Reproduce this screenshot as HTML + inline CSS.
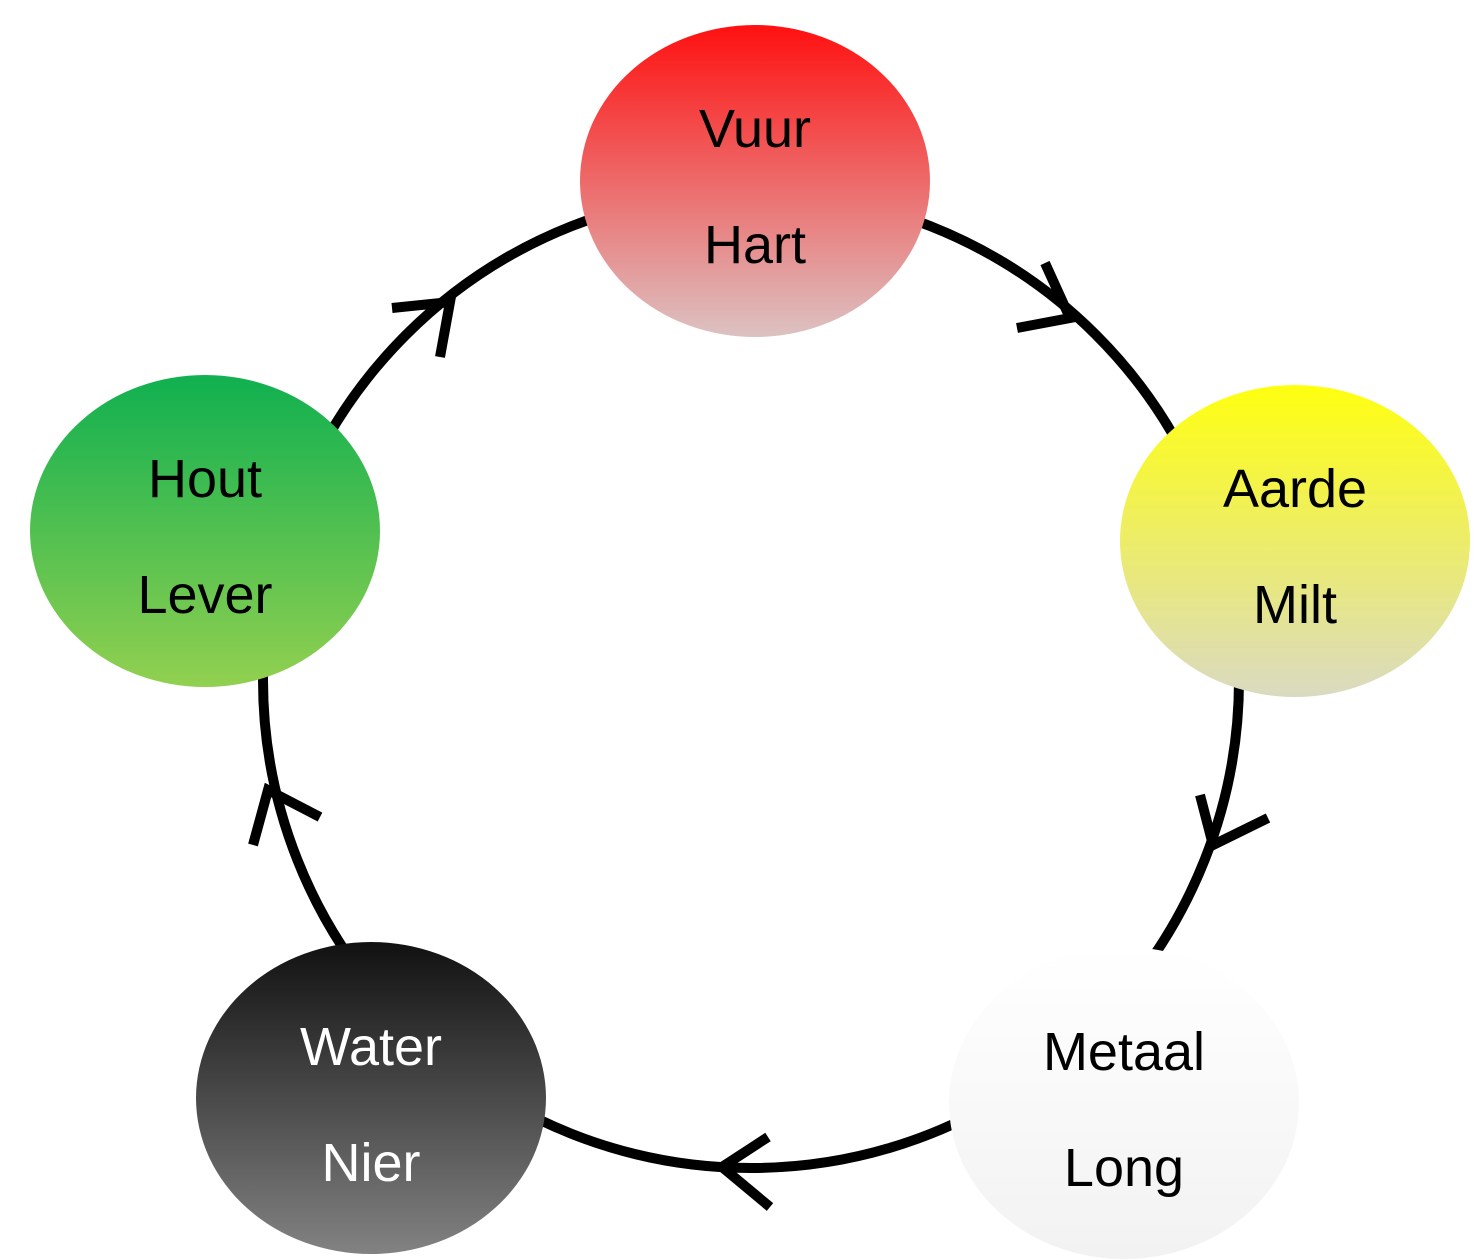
<!DOCTYPE html>
<html><head><meta charset="utf-8"><style>
html,body{margin:0;padding:0;background:#fff;}
svg{display:block;}
text{font-family:"Liberation Sans",sans-serif;font-size:54px;text-anchor:middle;}
</style></head><body>
<svg width="1476" height="1260" viewBox="0 0 1476 1260">
<defs>
<linearGradient id="gr" x1="0" y1="0" x2="0" y2="1"><stop offset="0" stop-color="#ff1010"/><stop offset="1" stop-color="#dcc2c2"/></linearGradient>
<linearGradient id="gy" x1="0" y1="0" x2="0" y2="1"><stop offset="0" stop-color="#ffff10"/><stop offset="1" stop-color="#dadac2"/></linearGradient>
<linearGradient id="gg" x1="0" y1="0" x2="0" y2="1"><stop offset="0" stop-color="#10b050"/><stop offset="1" stop-color="#92d050"/></linearGradient>
<linearGradient id="gk" x1="0" y1="0" x2="0" y2="1"><stop offset="0" stop-color="#111"/><stop offset="1" stop-color="#828282"/></linearGradient>
<linearGradient id="gw" x1="0" y1="0" x2="0" y2="1"><stop offset="0" stop-color="#ffffff"/><stop offset="1" stop-color="#f2f2f2"/></linearGradient>
</defs>
<circle cx="751" cy="680" r="488" fill="none" stroke="#000" stroke-width="10"/>
<g fill="none" stroke="#000" stroke-width="10">
<polyline points="1045,263 1070,318 1017,328"/>
<polyline points="1200,795 1213,845 1268,818"/>
<polyline points="768,1137 722,1167 770,1207"/>
<polyline points="253,845 268,790 320,817"/>
<polyline points="392,308 450,302 440,357"/>
</g>
<ellipse cx="755" cy="181" rx="175" ry="156" fill="url(#gr)"/>
<ellipse cx="1295" cy="541" rx="175" ry="156" fill="url(#gy)"/>
<ellipse cx="1124" cy="1103" rx="175" ry="156" fill="url(#gw)"/>
<ellipse cx="371" cy="1098" rx="175" ry="156" fill="url(#gk)"/>
<ellipse cx="205" cy="531" rx="175" ry="156" fill="url(#gg)"/>
<text x="755" y="147">Vuur</text><text x="755" y="263">Hart</text>
<text x="1295" y="507">Aarde</text><text x="1295" y="623">Milt</text>
<text x="1124" y="1070">Metaal</text><text x="1124" y="1186">Long</text>
<text x="371" y="1065" fill="#fff">Water</text><text x="371" y="1181" fill="#fff">Nier</text>
<text x="205" y="497">Hout</text><text x="205" y="613">Lever</text>
</svg>
</body></html>
